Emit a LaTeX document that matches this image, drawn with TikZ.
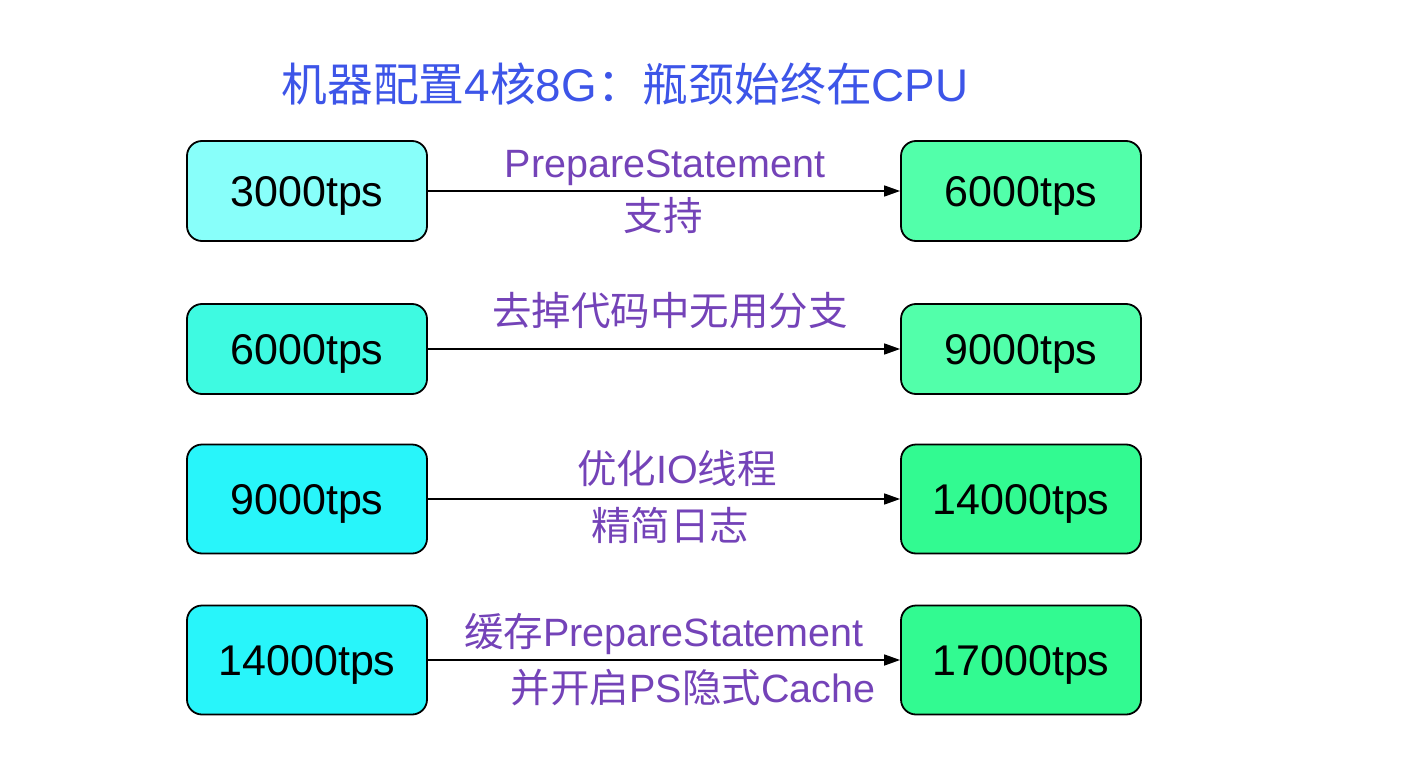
\documentclass[tikz,border=0pt]{standalone}
\usepackage{fontspec}
\setmainfont{Liberation Sans}
\newfontfamily\cjk{Noto Sans CJK SC}
\usetikzlibrary{arrows.meta}
\definecolor{lcA}{RGB}{136,255,250}
\definecolor{lcB}{RGB}{62,250,225}
\definecolor{lcC}{RGB}{40,245,250}
\definecolor{rcA}{RGB}{82,255,170}
\definecolor{rcB}{RGB}{50,250,145}
\definecolor{lblc}{RGB}{116,67,184}
\definecolor{ttlc}{RGB}{61,85,232}
\tikzset{
  tpsbox/.style={draw=black, line width=1.8pt, rounded corners=15pt, minimum width=240pt, inner sep=0pt, text height=31pt, text depth=0pt, font=\fontsize{43}{43}\selectfont},
  flowarrow/.style={line width=1.6pt, -{Triangle[length=16pt,width=11pt]}},
  lbl/.style={text=lblc, font=\fontsize{39.5}{39.5}\selectfont, inner sep=0pt, text height=29pt, text depth=0pt},
}
\begin{document}
\begin{tikzpicture}[x=1pt,y=-1pt]
\useasboundingbox (0,0) rectangle (1414,784);
\node[text=ttlc, font=\fontsize{45.8}{45.8}\selectfont, inner sep=0pt, text height=34pt, text depth=0pt] (title) at (625,84) {\cjk 机器配置\rmfamily 4\cjk 核\rmfamily 8G\cjk ：瓶颈始终在\rmfamily CPU};
% row 1
\node[tpsbox, fill=lcA, minimum height=100pt] (l1) at (307,191) {3000tps};
\node[tpsbox, fill=rcA, minimum height=100pt] (r1) at (1021,191) {6000tps};
\draw[flowarrow] (l1) -- (r1);
\node[lbl] (t1a) at (665,163) {PrepareStatement};
\node[lbl] (t1b) at (663,216) {\cjk 支持};
% row 2
\node[tpsbox, fill=lcB, minimum height=90pt] (l2) at (307,349) {6000tps};
\node[tpsbox, fill=rcA, minimum height=90pt] (r2) at (1021,349) {9000tps};
\draw[flowarrow] (l2) -- (r2);
\node[lbl] (t2a) at (670,311) {\cjk 去掉代码中无用分支};
% row 3
\node[tpsbox, fill=lcC, minimum height=109pt] (l3) at (307,499) {9000tps};
\node[tpsbox, fill=rcB, minimum height=109pt] (r3) at (1021,499) {14000tps};
\draw[flowarrow] (l3) -- (r3);
\node[lbl] (t3a) at (677,469) {\cjk 优化\rmfamily IO\cjk 线程};
\node[lbl] (t3b) at (670,526) {\cjk 精简日志};
% row 4
\node[tpsbox, fill=lcC, minimum height=109pt] (l4) at (307,660) {14000tps};
\node[tpsbox, fill=rcB, minimum height=109pt] (r4) at (1021,660) {17000tps};
\draw[flowarrow] (l4) -- (r4);
\node[lbl] (t4a) at (664,632) {\cjk 缓存\rmfamily PrepareStatement};
\node[lbl] (t4b) at (693,688) {\cjk 并开启\rmfamily PS\cjk 隐式\rmfamily Cache};
\end{tikzpicture}
\end{document}
